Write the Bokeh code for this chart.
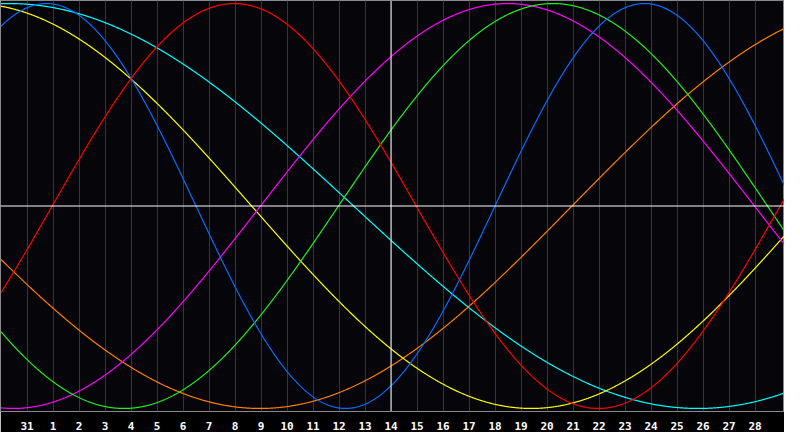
import numpy as np
from bokeh.plotting import figure
from bokeh.models import FixedTicker, Span, Range1d
from bokeh.embed import file_html
from bokeh.resources import INLINE

# ---- data ----
day_positions = list(range(1, 30))
day_labels = ["31", "1", "2", "3", "4", "5", "6", "7", "8", "9", "10", "11", "12", "13",
              "14", "15", "16", "17", "18", "19", "20", "21", "22", "23", "24", "25",
              "26", "27", "28"]
today_position = 15

cycle_names = ["Spiritual", "Awareness", "Aesthetic", "Intuitive", "Intellectual", "Physical", "Emotional"]
cycle_periods = [53, 48, 43, 38, 33, 23, 28]          # days
cycle_rising_zero = [-12.94, 21.96, -11.86, 9.98, 12.98, 19.0, 1.97]  # chart day of rising zero crossing
cycle_colors = ["#00ffff", "#ff8000", "#ffff00", "#ff00ff", "#22ee22", "#0a6cff", "#ff0000"]

# ---- figure ----
W, H, BOTTOM = 784, 432, 19
px_per_day = 26.0
x_start = -0.5 / px_per_day
x_end = x_start + W / px_per_day

p = figure(width=W, height=H, output_backend="svg", toolbar_location=None,
           x_range=Range1d(x_start, x_end), y_range=Range1d(-1.015, 1.015),
           min_border_left=0, min_border_right=0, min_border_top=0, min_border_bottom=BOTTOM)
p.background_fill_color = "#05050a"
p.border_fill_color = "#000000"
p.outline_line_color = "#8a8a8a"
p.outline_line_width = 1

p.yaxis.visible = False
p.ygrid.grid_line_color = None

p.xaxis.ticker = FixedTicker(ticks=day_positions)
p.xaxis.major_label_overrides = {pos: lab for pos, lab in zip(day_positions, day_labels)}
p.xaxis.axis_line_color = None
p.xaxis.major_tick_line_color = None
p.xaxis.minor_tick_line_color = None
p.xaxis.major_label_text_color = "#ffffff"
p.xaxis.major_label_text_font = "DejaVu Sans Mono"
p.xaxis.major_label_text_font_style = "bold"
p.xaxis.major_label_text_font_size = "11px"
p.xaxis.major_label_standoff = 4
p.xgrid.grid_line_color = "#363636"
p.xgrid.grid_line_width = 1

xs = np.linspace(0, 30.2, 1501)
for name, period, zero, color in zip(cycle_names, cycle_periods, cycle_rising_zero, cycle_colors):
    ys = np.sin(2 * np.pi * (xs - zero) / period)
    p.line(xs, ys, line_color=color, line_width=1.2)

p.add_layout(Span(location=0, dimension="width", line_color="#ffffff", line_width=1))
p.add_layout(Span(location=today_position, dimension="height", line_color="#ffffff", line_width=1))

open("out.html", "w").write(file_html(p, INLINE))
